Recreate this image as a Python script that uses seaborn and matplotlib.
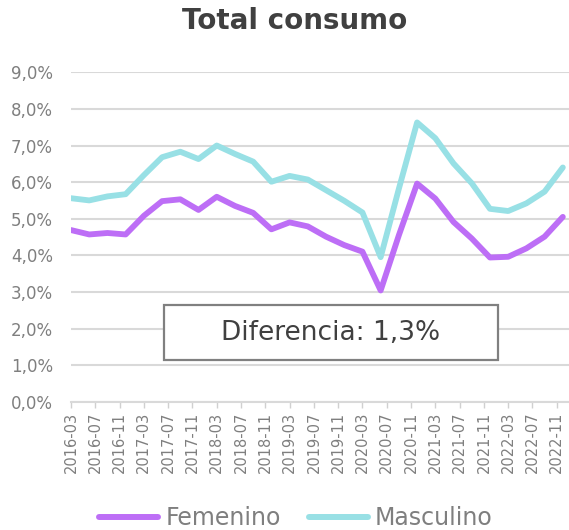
import numpy as np
import pandas as pd
import matplotlib
matplotlib.use("Agg")
import matplotlib.pyplot as plt
import seaborn as sns
from matplotlib.patches import Rectangle

# Quarterly data, 2016-03 .. 2022-12 (month offset from 2016-03)
months = [3 * i for i in range(28)]
femenino = [4.69, 4.57, 4.61, 4.57, 5.08, 5.48, 5.53, 5.24, 5.60, 5.35, 5.16, 4.71,
            4.90, 4.79, 4.51, 4.28, 4.10, 3.04, 4.55, 5.96, 5.55, 4.91, 4.46, 3.94,
            3.96, 4.19, 4.51, 5.05]
masculino = [5.56, 5.50, 5.61, 5.67, 6.19, 6.68, 6.83, 6.63, 7.00, 6.77, 6.56, 6.01,
             6.17, 6.07, 5.78, 5.49, 5.17, 3.95, 5.82, 7.63, 7.20, 6.51, 5.97, 5.27,
             5.21, 5.42, 5.74, 6.40]
tick_months = list(range(0, 81, 4))
tick_labels = ["2016-03", "2016-07", "2016-11", "2017-03", "2017-07", "2017-11",
               "2018-03", "2018-07", "2018-11", "2019-03", "2019-07", "2019-11",
               "2020-03", "2020-07", "2020-11", "2021-03", "2021-07", "2021-11",
               "2022-03", "2022-07", "2022-11"]
series_names = ["Femenino", "Masculino"]
colors = ["#bd6ef6", "#98e0e5"]
annotation = "Diferencia: 1,3%"
title = "Total consumo"

df = pd.DataFrame({
    "mes": months * 2,
    "valor": femenino + masculino,
    "serie": [series_names[0]] * len(months) + [series_names[1]] * len(months),
})

sns.set_theme(style="white")
plt.rcParams["font.family"] = ["DejaVu Sans"]

fig = plt.figure(figsize=(5.69, 5.30), dpi=100)
ax = fig.add_axes([0.1248, 0.242, 0.875, 0.6216])

sns.lineplot(data=df, x="mes", y="valor", hue="serie", palette=colors,
             hue_order=series_names, linewidth=4.2, ax=ax, legend=True,
             solid_capstyle="round", solid_joinstyle="round")

ax.set_xlim(0, 82)
ax.set_ylim(0, 9)
ax.set_yticks(np.arange(0, 9.01, 1))
ax.set_yticklabels([f"{v:.1f}%".replace(".", ",") for v in np.arange(0, 9.01, 1)],
                   fontsize=12, color="#7f7f7f")
ax.set_xticks(tick_months)
ax.set_xticklabels(tick_labels, rotation=90, fontsize=10.5, color="#7f7f7f")
ax.tick_params(axis="y", length=0, pad=13)
ax.tick_params(axis="x", length=4, width=1, color="#d0d0d0", pad=3, bottom=True)
ax.set_xlabel("")
ax.set_ylabel("")
ax.grid(axis="y", color="#d9d9d9", linewidth=1.5)
ax.grid(axis="x", visible=False)
for s in ["top", "right", "left"]:
    ax.spines[s].set_visible(False)
ax.spines["bottom"].set_color("#d9d9d9")
ax.spines["bottom"].set_linewidth(1.5)
ax.set_axisbelow(True)

leg = ax.legend(loc="center", bbox_to_anchor=(0.52, 0.023),
                bbox_transform=fig.transFigure, ncol=2, frameon=False,
                fontsize=17, handlelength=2.5, columnspacing=1.2,
                handletextpad=0.3)
for t in leg.get_texts():
    t.set_color("#7f7f7f")
for h in leg.get_lines():
    h.set_linewidth(4.3)
    h.set_solid_capstyle("round")

fig.text(0.518, 1 - 21 / 530, title, ha="center", va="center",
         fontsize=20, fontweight="bold", color="#404040")

# annotation box
W, H = 569, 530
fig.patches.append(Rectangle((164 / W, 1 - 360 / H), (498 - 164) / W, (360 - 305) / H,
                             transform=fig.transFigure, facecolor="white",
                             edgecolor="#808080", linewidth=1.6, zorder=5))
fig.text(331 / W, 1 - 333 / H, annotation, ha="center", va="center",
         fontsize=19, color="#404040", zorder=6)

fig.savefig("out.png", dpi=100)
